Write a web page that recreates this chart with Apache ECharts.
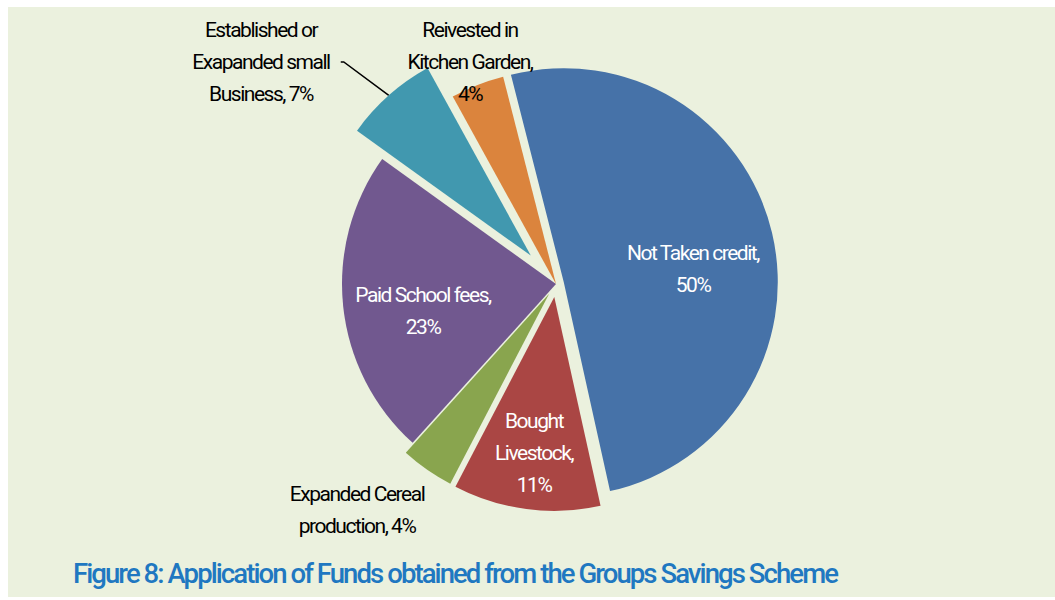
<!DOCTYPE html>
<html>
<head>
<meta charset="utf-8">
<title>Application of Funds</title>
<script src="https://cdn.jsdelivr.net/npm/echarts@6/dist/echarts.min.js"></script>
<style>
  html, body { margin: 0; padding: 0; background: #fff; }
  #main { width: 1055px; height: 600px; }
  /* the source uses a tight condensed face, squeeze the svg text a bit */
  #main text { letter-spacing: -0.07em; }
</style>
</head>
<body>
<div id="main"></div>
<script>
  // values (clockwise from the top)
  var categories = ['Not Taken credit', 'Bought Livestock', 'Expanded Cereal production',
    'Paid School fees', 'Established or Exapanded small Business', 'Reivested in Kitchen Garden'];
  var percents = [50, 11, 4, 23, 7, 4];
  var labelNames = ['Not Taken credit,', 'Bought\nLivestock,', 'Expanded Cereal\nproduction,',
    'Paid School fees,', 'Established or\nExapanded small\nBusiness,', 'Reivested in\nKitchen Garden,'];
  var titleText = 'Figure 8: Application of Funds obtained from the Groups Savings Scheme';

  // look of the slices and labels
  var colors = ['#4672A8', '#AA4644', '#89A54E', '#71588F', '#4198AF', '#DB843D'];
  var explode = [8, 13, 12, 0, 38, 0];
  var pctBreak = ['\n', '\n', ' ', '\n', ' ', '\n'];
  var labelInside = [true, true, false, true, false, false];
  var labelPos = [[693, 269], [534, 453], [357, 510], [423, 311], [261, 62], [470, 62]];
  var font = "Roboto, 'Liberation Sans', sans-serif";

  var cx = 556, cy = 284, radius = 214, startAngle = 104.3;
  var total = percents.reduce(function (a, b) { return a + b; }, 0);

  var myChart = echarts.init(document.getElementById('main'), null, { renderer: 'svg' });

  // one series per slice so every slice can be pulled out by its own amount
  var acc = 0;
  var series = percents.map(function (v, i) {
    var mid = (90 - startAngle) + (acc + v / 2) / total * 360; // degrees clockwise from top
    acc += v;
    var rad = mid * Math.PI / 180;
    return {
      type: 'pie',
      center: [cx + explode[i] * Math.sin(rad), cy - explode[i] * Math.cos(rad)],
      radius: radius,
      startAngle: startAngle,
      clockwise: true,
      avoidLabelOverlap: false,
      silent: true,
      emphasis: { disabled: true },
      label: {
        position: labelInside[i] ? 'inside' : 'outside',
        color: labelInside[i] ? '#fff' : '#000',
        fontFamily: font,
        fontSize: 21,
        lineHeight: 32,
        align: 'center',
        formatter: function (p) {
          return labelNames[p.dataIndex] + pctBreak[p.dataIndex] + p.value + '%';
        }
      },
      labelLine: {
        show: i === 4,
        length: 10,
        length2: 3,
        smooth: false,
        lineStyle: { color: '#000', width: 1.5 }
      },
      labelLayout: {
        x: labelPos[i][0],
        y: labelPos[i][1],
        align: 'center',
        verticalAlign: 'middle'
      },
      data: percents.map(function (val, j) {
        return {
          name: categories[j],
          value: val,
          itemStyle: { color: j === i ? colors[j] : 'rgba(0,0,0,0)' },
          label: { show: j === i },
          labelLine: { show: j === i && i === 4 }
        };
      })
    };
  });

  var option = {
    backgroundColor: '#fff',
    animation: false,
    graphic: [{
      type: 'rect',
      silent: true,
      shape: { x: 8, y: 7, width: 1047, height: 590 },
      style: { fill: '#EBF1DE' }
    }],
    title: {
      text: titleText,
      left: 73,
      top: 559,
      padding: 0,
      textStyle: {
        fontFamily: font,
        fontSize: 27.5,
        fontWeight: 500,
        color: '#1F78C1'
      }
    },
    series: series
  };

  myChart.setOption(option);
</script>
</body>
</html>
